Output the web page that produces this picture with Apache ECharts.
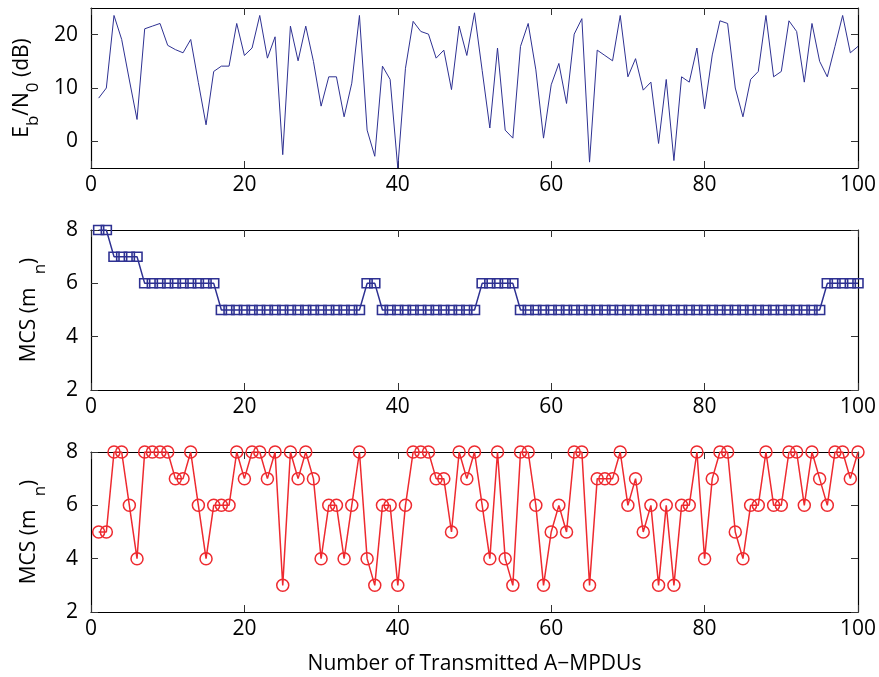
<!DOCTYPE html>
<html>
<head>
<meta charset="utf-8">
<script src="https://cdn.jsdelivr.net/npm/echarts@6.0.0/dist/echarts.min.js"></script>
<style>
  html, body { margin: 0; padding: 0; background: #fff; }
  #chart { width: 879px; height: 677px; }
</style>
</head>
<body>
<div id="chart"></div>
<script>
// Eb/N0 per transmitted A-MPDU (dB)
const ebn0 = [
  8.1, 10, 23.6, 19.1, 11.5, 4.1, 21.1, 21.6, 22.1, 18,
  17.2, 16.6, 19.1, 11, 3.1, 13.1, 14.1, 14.1, 22.1, 16.1,
  17.5, 23.6, 15.6, 19.6, -2.5, 21.6, 15.1, 21.6, 15, 6.6,
  12.1, 12.1, 4.6, 10.9, 23.6, 2.1, -2.8, 14.1, 11.6, -5,
  13.7, 22.5, 20.6, 20.1, 15.6, 17.1, 9.7, 21.6, 16.1, 24.1,
  13.3, 2.5, 17.5, 2.1, 0.6, 17.8, 22.1, 13.4, 0.6, 10.6,
  14.6, 7.1, 20.1, 23, -3.9, 17.1, 16.1, 15.1, 23.6, 12.1,
  15.5, 9.6, 11.1, -0.4, 11.6, -3.6, 12.1, 11.1, 17.5, 6.1,
  16.2, 22.6, 22.1, 10, 4.6, 11.6, 13.1, 23.6, 12.1, 13.1,
  22.6, 20.6, 11.1, 22.1, 15, 12.1, 17.8, 23.6, 16.6, 17.8
];
// slowly adapted MCS (squares)
const mcsSlow = [
  8, 8, 7, 7, 7, 7, 6, 6, 6, 6,
  6, 6, 6, 6, 6, 6, 5, 5, 5, 5,
  5, 5, 5, 5, 5, 5, 5, 5, 5, 5,
  5, 5, 5, 5, 5, 6, 6, 5, 5, 5,
  5, 5, 5, 5, 5, 5, 5, 5, 5, 5,
  6, 6, 6, 6, 6, 5, 5, 5, 5, 5,
  5, 5, 5, 5, 5, 5, 5, 5, 5, 5,
  5, 5, 5, 5, 5, 5, 5, 5, 5, 5,
  5, 5, 5, 5, 5, 5, 5, 5, 5, 5,
  5, 5, 5, 5, 5, 6, 6, 6, 6, 6
];
// per-packet MCS (circles)
const mcsFast = [
  5, 5, 8, 8, 6, 4, 8, 8, 8, 8,
  7, 7, 8, 6, 4, 6, 6, 6, 8, 7,
  8, 8, 7, 8, 3, 8, 7, 8, 7, 4,
  6, 6, 4, 6, 8, 4, 3, 6, 6, 3,
  6, 8, 8, 8, 7, 7, 5, 8, 7, 8,
  6, 4, 8, 4, 3, 8, 8, 6, 3, 5,
  6, 5, 8, 8, 3, 7, 7, 7, 8, 6,
  7, 5, 6, 3, 6, 3, 6, 6, 8, 4,
  7, 8, 8, 5, 4, 6, 6, 8, 6, 6,
  8, 8, 6, 8, 7, 6, 8, 8, 7, 8
];
const ebTicks = [0, 10, 20];

const FONT = 'Open Sans';
const FS = 21;
const pairs = arr => arr.map((v, i) => [i + 1, v]);

const grids = [
  {left: 91, width: 767, top: 8, height: 160},
  {left: 91, width: 767, top: 230, height: 160},
  {left: 91, width: 767, top: 452, height: 160}
];

const tick = {show: true, inside: true, length: 7, lineStyle: {color: '#333', width: 1}};
const label = {color: '#000', fontFamily: FONT, fontSize: FS};
const axLine = {show: true, onZero: false, lineStyle: {color: '#000', width: 1.2}};

const xAxes = [];
const yAxes = [];
for (let i = 0; i < 3; i++) {
  xAxes.push({
    type: 'value', gridIndex: i, min: 0, max: 100, interval: 20,
    axisLine: axLine, axisTick: tick, splitLine: {show: false},
    axisLabel: Object.assign({margin: 7}, label),
    name: i === 2 ? 'Number of Transmitted A\u2212MPDUs' : '',
    nameLocation: 'middle', nameGap: 42,
    nameTextStyle: {color: '#000', fontFamily: FONT, fontSize: FS}
  });
}
for (let i = 0; i < 3; i++) {
  xAxes.push({
    type: 'value', gridIndex: i, position: 'top', min: 0, max: 100, interval: 20,
    axisLine: axLine, axisTick: tick, axisLabel: {show: false}, splitLine: {show: false}
  });
}

const richName = {
  n: {fontFamily: FONT, fontSize: FS, color: '#000', verticalAlign: 'top', lineHeight: 30},
  s: {fontFamily: FONT, fontSize: 17, color: '#000', verticalAlign: 'bottom', lineHeight: 30}
};
yAxes.push({
  type: 'value', gridIndex: 0, min: -5, max: 25,
  axisLine: axLine, splitLine: {show: false},
  axisTick: Object.assign({customValues: ebTicks}, tick),
  axisLabel: Object.assign({customValues: ebTicks, margin: 13}, label),
  name: '{n|E}{s|b}{n|/N}{s|0}{n| (dB)}', nameLocation: 'middle', nameGap: 49, nameRotate: 90,
  nameTextStyle: {rich: richName}
});
for (let i = 1; i < 3; i++) {
  yAxes.push({
    type: 'value', gridIndex: i, min: 2, max: 8, interval: 2,
    axisLine: axLine, splitLine: {show: false}, axisTick: tick,
    axisLabel: Object.assign({margin: 13}, label),
    name: '{n|MCS (m}{s|   n}{n|)}', nameLocation: 'middle', nameGap: 42, nameRotate: 90,
    nameTextStyle: {rich: richName}
  });
}
yAxes.push({
  type: 'value', gridIndex: 0, position: 'right', min: -5, max: 25,
  axisLine: axLine, splitLine: {show: false},
  axisTick: Object.assign({customValues: ebTicks}, tick), axisLabel: {show: false}
});
for (let i = 1; i < 3; i++) {
  yAxes.push({
    type: 'value', gridIndex: i, position: 'right', min: 2, max: 8, interval: 2,
    axisLine: axLine, splitLine: {show: false}, axisTick: tick, axisLabel: {show: false}
  });
}

const blue = '#2e3192';
const red = '#ee2a2f';

const option = {
  animation: false,
  backgroundColor: '#fff',
  grid: grids,
  xAxis: xAxes,
  yAxis: yAxes,
  series: [
    {
      type: 'line', xAxisIndex: 0, yAxisIndex: 0, data: pairs(ebn0),
      showSymbol: false, lineStyle: {color: blue, width: 1}
    },
    {
      type: 'line', xAxisIndex: 1, yAxisIndex: 1, data: pairs(mcsSlow),
      symbol: 'rect', symbolSize: [10, 9], showAllSymbol: true,
      lineStyle: {color: blue, width: 1.5},
      itemStyle: {color: 'rgba(0,0,0,0)', borderColor: blue, borderWidth: 1.5}
    },
    {
      type: 'line', xAxisIndex: 2, yAxisIndex: 2, data: pairs(mcsFast),
      symbol: 'circle', symbolSize: 12, showAllSymbol: true,
      lineStyle: {color: red, width: 1.5},
      itemStyle: {color: 'rgba(0,0,0,0)', borderColor: red, borderWidth: 1.5}
    }
  ]
};

const chart = echarts.init(document.getElementById('chart'));
chart.setOption(option);
</script>
</body>
</html>
